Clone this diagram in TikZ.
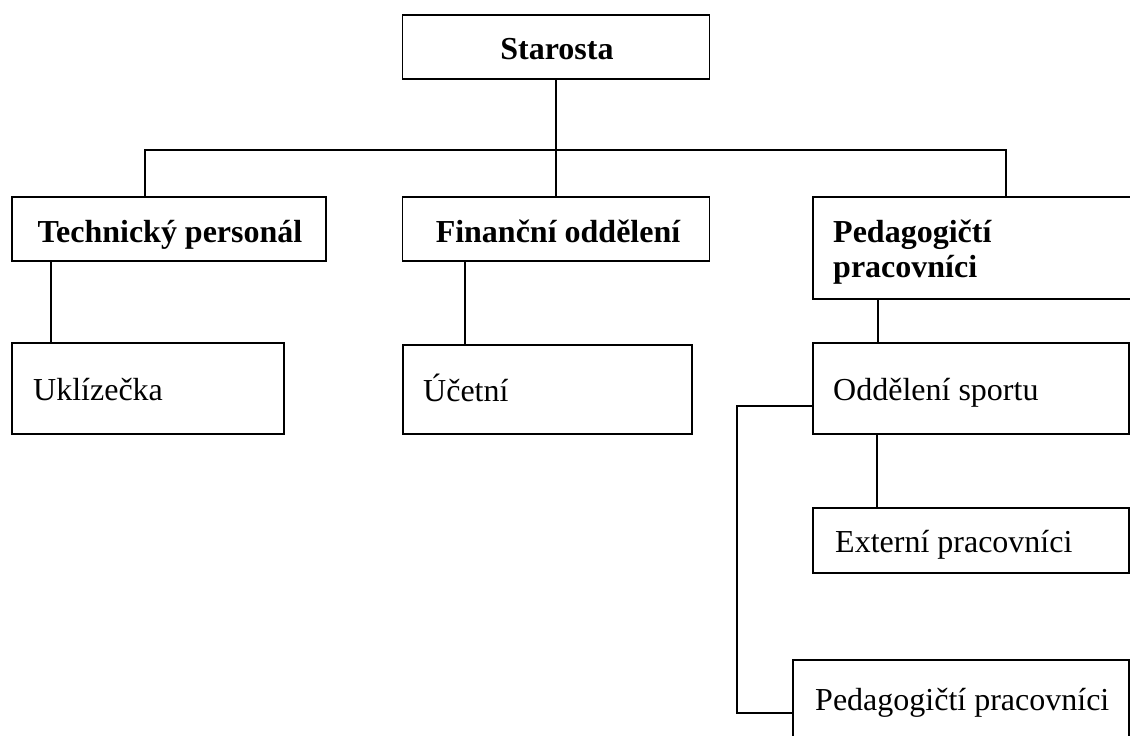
\documentclass[tikz,border=0pt]{standalone}
\usepackage{fontspec}
\setmainfont{Liberation Serif}
\begin{document}
\begin{tikzpicture}[x=1pt,y=-1pt,
  box/.style={draw, line width=1.6pt, rectangle, inner sep=0pt, minimum width=#1},
  lbl/.style={inner sep=0pt, font=\fontsize{32}{35}\selectfont},
  blbl/.style={inner sep=0pt, font=\fontsize{32}{35}\selectfont\bfseries},
  conn/.style={line width=1.6pt}]
\useasboundingbox (0,0) rectangle (1130,736);
\clip (0,0) rectangle (1130,736);
% boxes
\node[box=307pt, minimum height=64pt] (starosta) at (556,47) {};
\node[box=314pt, minimum height=64pt] (tech) at (169,229) {};
\node[box=307pt, minimum height=64pt] (fin) at (556,229) {};
\node[box=332pt, minimum height=102pt] (ped) at (979,248) {};
\node[box=272pt, minimum height=91pt] (ukl) at (148,388.5) {};
\node[box=289pt, minimum height=89pt] (uce) at (547.5,389.5) {};
\node[box=316pt, minimum height=91pt] (odd) at (971,388.5) {};
\node[box=316pt, minimum height=65pt] (ext) at (971,540.5) {};
\node[box=336pt, minimum height=90pt] (ped2) at (961,705) {};
% texts
\node[blbl, anchor=base] (tStarosta) at (557,59) {Starosta};
\node[blbl, anchor=base] (tTech) at (170,242) {Technický personál};
\node[blbl, anchor=base] (tFin) at (558,242) {Finanční oddělení};
\node[blbl, anchor=base west] (tPedA) at (833,242) {Pedagogičtí};
\node[blbl, anchor=base west] (tPedB) at (833,277) {pracovníci};
\node[lbl, anchor=base west] (tUkl) at (33,400) {Uklízečka};
\node[lbl, anchor=base west] (tUce) at (423,401) {Účetní};
\node[lbl, anchor=base west] (tOdd) at (833,400) {Oddělení sportu};
\node[lbl, anchor=base west] (tExt) at (835,552) {Externí pracovníci};
\node[lbl, anchor=base west] (tPed2) at (815,710) {Pedagogičtí pracovníci};
% connectors
\coordinate (busL) at (145,150);
\coordinate (busR) at (1006,150);
\coordinate (spineB) at (737,713);
\draw[conn] (starosta.south) -- (fin.north);
\draw[conn] (busL |- tech.north) -- (busL) -- (busR) -- (busR |- ped.north);
\draw[conn] ([xshift=40pt]tech.south west) -- ([xshift=40pt]ukl.north west);
\draw[conn] ([xshift=63.5pt]fin.south west) -- ([xshift=63pt]uce.north west);
\draw[conn] ([xshift=66pt]ped.south west) -- ([xshift=66pt]odd.north west);
\draw[conn] ([xshift=65pt]odd.south west) -- ([xshift=65pt]ext.north west);
\draw[conn] ([yshift=-17.5pt]odd.west) -| (spineB) -- (spineB -| ped2.west);
\end{tikzpicture}
\end{document}
